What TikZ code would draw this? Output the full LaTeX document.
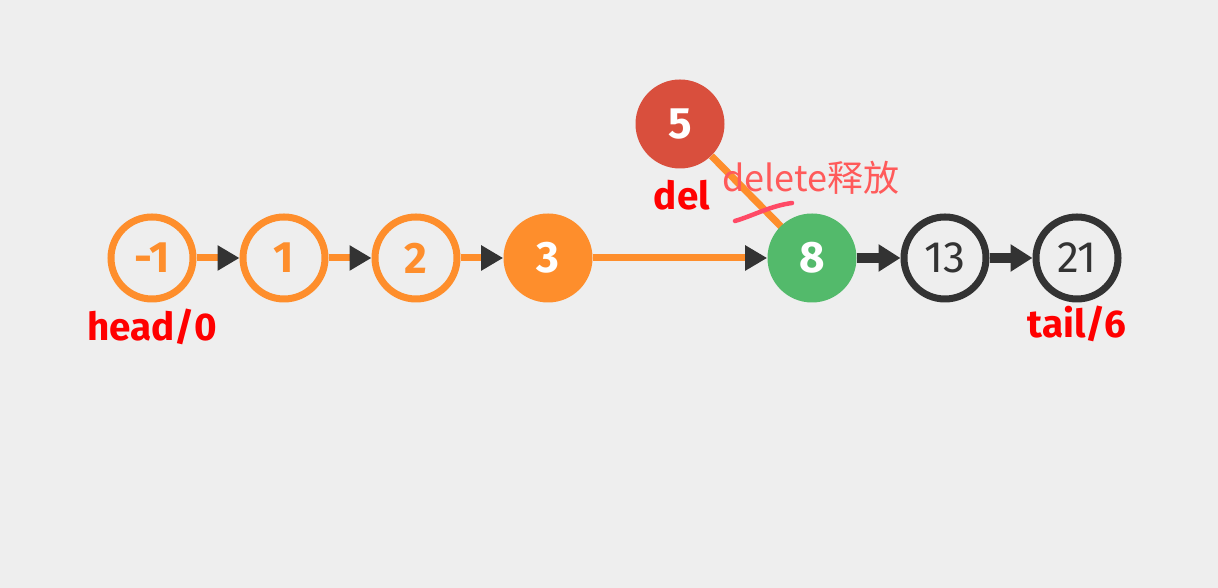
\documentclass[tikz,border=0pt]{standalone}
\usepackage{fontspec}
\setmainfont{Fira Sans}
\newfontfamily\cjk{Noto Sans CJK SC}
\usepackage{tikz}
\usetikzlibrary{arrows.meta}
\definecolor{mybg}{rgb}{0.933,0.933,0.933}
\definecolor{myorange}{rgb}{0.996,0.557,0.173}
\definecolor{mygreen}{rgb}{0.325,0.729,0.420}
\definecolor{myred}{rgb}{0.851,0.310,0.239}
\definecolor{mydark}{rgb}{0.200,0.200,0.200}
\definecolor{mytext}{rgb}{1.000,0.000,0.000}
\definecolor{mynote}{rgb}{1.000,0.353,0.353}
\definecolor{mymark}{rgb}{1.000,0.290,0.400}
\tikzstyle{ring}=[circle,draw=myorange,line width=0.14cm,minimum size=1.64cm,inner sep=0pt,text=myorange,font=\fontsize{25}{28}\selectfont\bfseries]
\tikzstyle{ringB}=[circle,draw=mydark,line width=0.14cm,minimum size=1.64cm,inner sep=0pt,text=mydark,font=\fontsize{25}{28}\selectfont]
\tikzstyle{disc}=[circle,minimum size=1.78cm,inner sep=0pt,text=white,font=\fontsize{25}{28}\selectfont\bfseries]
\tikzstyle{link}=[myorange,line width=0.14cm,-{Triangle[length=0.44cm,width=0.48cm,color=mydark,fill=mydark]}]
\tikzstyle{linkB}=[mydark,line width=0.2cm,-{Triangle[length=0.44cm,width=0.52cm]}]
\tikzstyle{lbl}=[text=mytext,font=\fontsize{22}{26}\selectfont\bfseries]

\begin{document}
\begin{tikzpicture}
	\fill [mybg] (0,0) rectangle (24.36,11.76);
	\useasboundingbox (0,0) rectangle (24.36,11.76);
		\node [style=ring] (m1) at (3.04, 6.6) {-1};
		\node [style=ring] (n1) at (5.68, 6.6) {1};
		\node [style=ring] (n2) at (8.32, 6.6) {2};
		\node [style=disc,fill=myorange] (n3) at (10.96, 6.6) {3};
		\node [style=disc,fill=myred] (n5) at (13.6, 9.28) {5};
		\node [style=ringB] (n13) at (18.9, 6.6) {13};
		\node [style=ringB] (n21) at (21.54, 6.6) {21};
		% deleted node link goes under node 8
		\draw [myorange,line width=0.14cm] (n5) to (16.24, 6.6);
		\node [style=disc,fill=mygreen] (n8) at (16.24, 6.6) {8};
		\draw [style=link] (m1) to (n1);
		\draw [style=link] (n1) to (n2);
		\draw [style=link] (n2) to (n3);
		\draw [style=link] (n3) to (n8);
		\draw [style=linkB] (n8) to (n13);
		\draw [style=linkB] (n13) to (n21);
		\node [style=lbl] (head) at (3.04, 5.22) {head/0};
		\node [style=lbl] (tail) at (21.54, 5.28) {tail/6};
		\node [style=lbl] (del) at (13.64, 7.86) {del};
		\node [anchor=west,text=mynote,font=\cjk\fontsize{20.5}{24}\selectfont,inner sep=0pt] (note) at (14.44, 8.2) {delete释放};
		\coordinate (c0) at (14.70, 7.34);
		\coordinate (c1) at (15.84, 7.7);
		\draw [mymark,line width=0.09cm,line cap=round] (c0) .. controls (15.1, 7.46) and (15.4, 7.64) .. (c1);
\end{tikzpicture}
\end{document}
